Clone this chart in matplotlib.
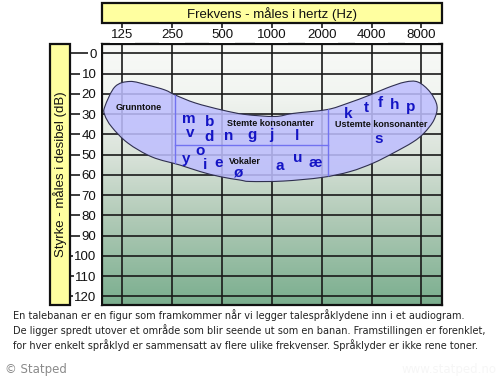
import numpy as np
import matplotlib
matplotlib.use("Agg")
import matplotlib.pyplot as plt
from matplotlib.patches import Rectangle, PathPatch
from matplotlib.path import Path
from matplotlib.colors import LinearSegmentedColormap
from matplotlib.lines import Line2D
from matplotlib.ticker import NullLocator
import matplotlib.transforms as mtransforms

# ---------------- data ----------------
freq_ticks = [125, 250, 500, 1000, 2000, 4000, 8000]
freq_labels = ["125", "250", "500", "1000", "2000", "4000", "8000"]
db_ticks = [0, 10, 20, 30, 40, 50, 60, 70, 80, 90, 100, 110, 120]
db_labels = [str(v) for v in db_ticks]

# speech banana outline (Hz, dB), clockwise from the left end
banana_hz = [98, 113, 139, 178, 226, 261, 344, 500, 688, 1045, 1342, 2153, 2843,
             3915, 4960, 6370, 7630, 9020, 9940, 9530, 8300, 7120, 5400, 4100,
             2970, 2010, 1170, 740, 643, 486, 369, 279, 189, 135, 108, 98]
banana_db = [26.4, 16.5, 13.9, 15.7, 18.1, 20.6, 24.5, 28.0, 30.2, 31.2, 29.7,
             27.8, 24.8, 20.6, 17.1, 14.2, 14.2, 19.1, 26.0, 32.9, 39.4, 43.8,
             49.3, 54.2, 58.4, 61.3, 63.1, 63.3, 62.6, 60.9, 58.4, 55.2, 51.2,
             44.3, 36.4, 30.5]

# dividing lines inside the banana
div_low_hz = 262
div_high_hz = 2183
div_mid_db = 45.3

# speech sounds (letter, Hz, dB baseline)
sound_letters = ["m", "v", "b", "d", "n", "g", "j", "l",
                 "y", "o", "i", "e", "ø", "a", "u", "æ",
                 "k", "t", "f", "h", "p", "s"]
sound_hz = [317, 320, 419, 419, 551, 756, 998, 1424,
            302, 370, 395, 475, 633, 1120, 1433, 1823,
            2896, 3703, 4497, 5487, 6893, 4393]
sound_db = [34.3, 41.2, 35.8, 43.2, 42.8, 42.5, 42.5, 42.8,
            54.3, 50.2, 57.3, 56.0, 61.0, 57.6, 53.5, 56.0,
            31.8, 28.8, 26.7, 27.7, 28.3, 44.1]

group_labels = ["Grunntone", "Stemte konsonanter", "Vokaler", "Ustemte konsonanter"]
group_hz = [156, 975, 688, 4544]
group_db = [28.0, 35.9, 54.8, 36.2]

title_text = "Frekvens - måles i hertz (Hz)"
ylabel_text = "Styrke - måles i desibel (dB)"
caption_lines = [
    "En talebanan er en figur som framkommer når vi legger talespråklydene inn i et audiogram.",
    "De ligger spredt utover et område som blir seende ut som en banan. Framstillingen er forenklet,",
    "for hver enkelt språklyd er sammensatt av flere ulike frekvenser. Språklyder er ikke rene toner.",
]
copyright_text = "© Statped"
watermark_text = "www.statped.no"

# ---------------- layout helpers ----------------
W, H = 500, 378
fig = plt.figure(figsize=(5.0, 3.78), dpi=100)
fig.patch.set_facecolor("white")


def fx(px):
    return px / W


def fy(py):
    return 1 - py / H


AX_L, AX_R, AX_T, AX_B = 102, 441.7, 44.3, 305
ax = fig.add_axes([fx(AX_L), fy(AX_B), fx(AX_R) - fx(AX_L), fy(AX_T) - fy(AX_B)])

# background gradient
cmap = LinearSegmentedColormap.from_list(
    "bg",
    [(0.0, (248 / 255, 249 / 255, 247 / 255)),
     (0.19, (242 / 255, 245 / 255, 241 / 255)),
     (0.42, (218 / 255, 227 / 255, 218 / 255)),
     (0.66, (178 / 255, 203 / 255, 184 / 255)),
     (1.0, (122 / 255, 174 / 255, 142 / 255))])
grad = np.linspace(0, 1, 256).reshape(-1, 1)
ax.imshow(grad, extent=[0, 1, 0, 1], transform=ax.transAxes, aspect="auto",
          cmap=cmap, origin="upper", zorder=0, interpolation="bilinear")

ax.set_xscale("log", base=2)
ax.set_xlim(94.3, 10610)
ax.set_ylim(124.3, -4.44)
ax.xaxis.set_major_locator(NullLocator())
ax.xaxis.set_minor_locator(NullLocator())
ax.yaxis.set_major_locator(NullLocator())
ax.yaxis.set_minor_locator(NullLocator())
for sp in ax.spines.values():
    sp.set_linewidth(1.6)
    sp.set_color("#111111")
    sp.set_zorder(5)

# grid lines (extending outside the axes)
hblend = mtransforms.blended_transform_factory(fig.transFigure, ax.transData)
vblend = mtransforms.blended_transform_factory(ax.transData, fig.transFigure)
for d in db_ticks:
    ax.add_line(Line2D([fx(71), fx(AX_R)], [d, d], transform=hblend,
                       color="#1a1a1a", lw=1.2, clip_on=False, zorder=1))
for f in freq_ticks:
    ax.add_line(Line2D([f, f], [fy(AX_B), fy(23.3)], transform=vblend,
                       color="#1a1a1a", lw=1.2, clip_on=False, zorder=1))

# banana path (Catmull-Rom as cubic Bezier in log2 space)
lx = np.log2(np.array(banana_hz, dtype=float))
ly = np.array(banana_db, dtype=float)
n = len(lx)
verts = [(2 ** lx[0], ly[0])]
codes = [Path.MOVETO]
for i in range(n):
    p0 = np.array([lx[i - 1], ly[i - 1]])
    p1 = np.array([lx[i], ly[i]])
    p2 = np.array([lx[(i + 1) % n], ly[(i + 1) % n]])
    p3 = np.array([lx[(i + 2) % n], ly[(i + 2) % n]])
    c1 = p1 + (p2 - p0) / 6
    c2 = p2 - (p3 - p1) / 6
    for pt in (c1, c2, p2):
        verts.append((2 ** pt[0], pt[1]))
        codes.append(Path.CURVE4)
verts.append(verts[0])
codes.append(Path.CLOSEPOLY)
banana = PathPatch(Path(verts, codes), facecolor=(190 / 255, 190 / 255, 1.0, 0.86),
                   edgecolor="#2f2f4f", lw=0.8, zorder=2, transform=ax.transData)
ax.add_patch(banana)

# dividing lines clipped to banana
div_kw = dict(color="#7272f0", lw=1.0, zorder=2.5)
for fv in (div_low_hz, div_high_hz):
    ln = Line2D([fv, fv], [-4, 124], **div_kw)
    ax.add_line(ln)
    ln.set_clip_path(banana)
lnh = Line2D([div_low_hz, div_high_hz], [div_mid_db, div_mid_db], **div_kw)
ax.add_line(lnh)
lnh.set_clip_path(banana)

# letters
for s, f, d in zip(sound_letters, sound_hz, sound_db):
    ax.text(f, d, s, ha="center", va="baseline", fontsize=11, fontweight="bold",
            color="#1414c4", family="Liberation Sans", zorder=4)
for s, f, d in zip(group_labels, group_hz, group_db):
    ax.text(f, d, s, ha="center", va="baseline", fontsize=6.5, fontweight="bold",
            color="#111111", family="Liberation Sans", zorder=4)

# white strip between y tick labels and the axes
fig.add_artist(Rectangle((fx(97), fy(AX_B)), fx(101.2) - fx(97), fy(AX_T) - fy(AX_B),
                         transform=fig.transFigure, facecolor="white",
                         edgecolor="none", zorder=1))

# tick labels
ylab_tr = mtransforms.offset_copy(hblend, fig=fig, x=0, y=-4.7, units="dots")
for d, s in zip(db_ticks, db_labels):
    fig.text(fx(96.5), d, s, transform=ylab_tr, ha="right", va="baseline",
             fontsize=9.5, family="Liberation Sans", color="#111111", zorder=3,
             bbox=dict(boxstyle="square,pad=0.12", fc="white", ec="none"))
for f, s in zip(freq_ticks, freq_labels):
    fig.text(f, fy(38.5), s, transform=vblend, ha="center", va="baseline",
             fontsize=9.5, family="Liberation Sans", color="#111111", zorder=3,
             bbox=dict(boxstyle="square,pad=0.12", fc="white", ec="none"))

# title box
fig.add_artist(Rectangle((fx(AX_L), fy(23.3)), fx(AX_R) - fx(AX_L), fy(3.3) - fy(23.3),
                         transform=fig.transFigure, facecolor="#ffffa0",
                         edgecolor="#111111", lw=1.6, zorder=2))
fig.text((fx(AX_L) + fx(AX_R)) / 2, fy(18.3), title_text, ha="center", va="baseline",
         fontsize=9.5, family="Liberation Sans", color="#111111", zorder=3)

# y label box
fig.add_artist(Rectangle((fx(50), fy(AX_B)), fx(70) - fx(50), fy(AX_T) - fy(AX_B),
                         transform=fig.transFigure, facecolor="#ffffa0",
                         edgecolor="#111111", lw=1.6, zorder=2))
fig.text(fx(60), (fy(AX_T) + fy(AX_B)) / 2, ylabel_text, rotation=90, ha="center",
         va="center", fontsize=9.5, family="Liberation Sans", color="#111111", zorder=3)

# caption
for i, line in enumerate(caption_lines):
    fig.text(fx(12.7), fy(319.3 + 15 * i), line, ha="left", va="baseline",
             fontsize=7.0, family="DejaVu Sans", color="#222222")
fig.text(fx(5), fy(372.7), copyright_text, ha="left", va="baseline",
         fontsize=8.5, family="DejaVu Sans", color="#8a8a8a")
fig.text(fx(497), fy(372.7), watermark_text, ha="right", va="baseline",
         fontsize=8.5, family="DejaVu Sans", color="#f6f6f6")

fig.savefig("out.png", dpi=100, facecolor="white")
